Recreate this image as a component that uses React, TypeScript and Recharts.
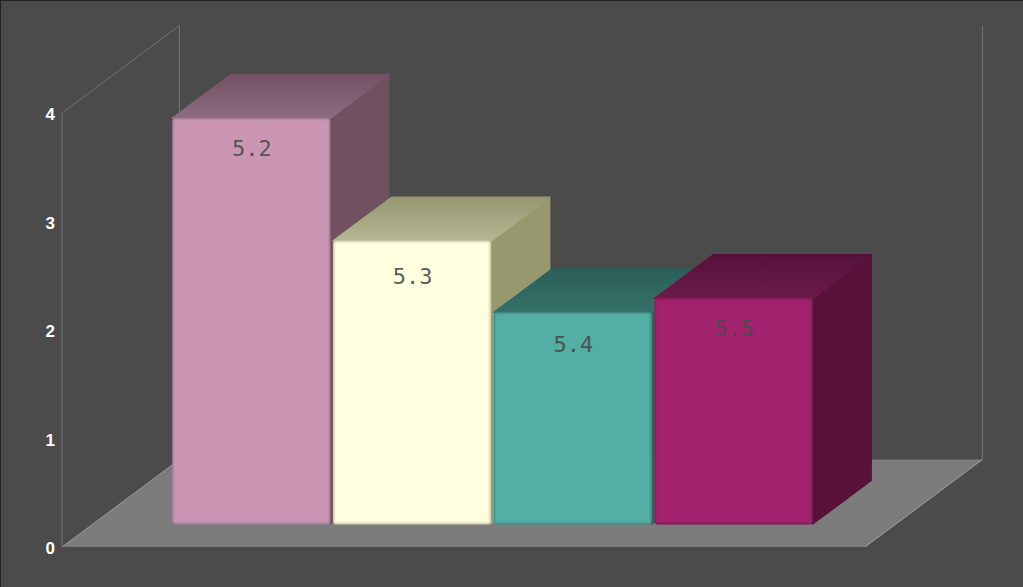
import React from 'react';
import { BarChart, Bar, XAxis, YAxis, ReferenceArea } from 'recharts';

const categories = ["5.2", "5.3", "5.4", "5.5"];
const values = [3.74, 2.61, 1.95, 2.08];
const yTicks = [0, 1, 2, 3, 4];

const fronts = ["#cb96b4", "#ffffe0", "#53aea3", "#a3246d"];
const edges = ["#a07a92", "#c4c4a6", "#41877f", "#7e1c56"];
const topsBack = ["#735265", "#969672", "#2c5f59", "#56123a"];
const topsFront = ["#8d6b80", "#b6b692", "#347069", "#6b1a4a"];
const sides = ["#71505f", "#98986f", "#2f625c", "#581239"];

const data = categories.map((name, i) => ({ name, value: values[i] }));

// bars float above the axis zero, box depth runs up and to the right
const FLOOR_LIFT = 23;
const DEPTH_X = 58.5;
const DEPTH_Y = 43.5;
const PAD_LEFT = 109;
const PAD_RIGHT = 51;
const LABEL_DROP: Record<string, number> = { "5.2": 32, "5.3": 37, "5.4": 34, "5.5": 32 };

const Room = (props: any) => {
  const { y, height } = props;
  // the reference area stops at the axis padding, the room does not
  const x = props.x - PAD_LEFT;
  const right = props.x + props.width + PAD_RIGHT;
  const bottom = y + height;
  const wallX = 117.5;
  const wallY = 87.5;
  const wall = "#737373";
  return (
    <g>
      <polygon
        points={`${x},${bottom} ${right},${bottom} ${right + wallX},${bottom - wallY} ${x + wallX},${bottom - wallY}`}
        fill="#7c7c7c"
      />
      <line x1={x} y1={bottom} x2={x + wallX} y2={bottom - wallY} stroke="#9a9a9a" strokeWidth={1} />
      <line x1={right} y1={bottom} x2={right + wallX} y2={bottom - wallY} stroke="#a0a0a0" strokeWidth={1} />
      <polyline
        points={`${x},${bottom} ${x},${y} ${x + wallX},${y - wallY} ${x + wallX},${bottom - wallY}`}
        fill="none"
        stroke={wall}
        strokeWidth={1}
      />
      <line x1={right + wallX} y1={y - wallY} x2={right + wallX} y2={bottom - wallY} stroke={wall} strokeWidth={1} />
    </g>
  );
};

const Box = (props: any) => {
  const { x, width, index, payload } = props;
  const top = props.y - FLOOR_LIFT;
  const bottom = props.y + props.height - FLOOR_LIFT;
  const right = x + width;
  const gradId = `top-${index}`;
  const blurId = `soft-${index}`;
  return (
    <g>
      <defs>
        <linearGradient id={gradId} x1="0" y1="0" x2="0" y2="1">
          <stop offset="0%" stopColor={topsBack[index]} />
          <stop offset="100%" stopColor={topsFront[index]} />
        </linearGradient>
        <filter id={blurId} x="-5%" y="-5%" width="110%" height="110%">
          <feGaussianBlur stdDeviation="0.9" />
        </filter>
      </defs>
      <polygon
        points={`${right},${top} ${right + DEPTH_X},${top - DEPTH_Y} ${right + DEPTH_X},${bottom - DEPTH_Y} ${right},${bottom}`}
        fill={sides[index]}
        stroke={sides[index]}
        strokeWidth={1.5}
        strokeLinejoin="round"
      />
      <polygon
        points={`${x},${top} ${right},${top} ${right + DEPTH_X},${top - DEPTH_Y} ${x + DEPTH_X},${top - DEPTH_Y}`}
        fill={`url(#${gradId})`}
        stroke={`url(#${gradId})`}
        strokeWidth={1.5}
        strokeLinejoin="round"
      />
      <rect x={x} y={top} width={width} height={bottom - top + 0.5} rx={3} fill={edges[index]} />
      <rect
        x={x + 1}
        y={top + 1}
        width={width - 2.5}
        height={bottom - top - 2}
        fill={fronts[index]}
        filter={`url(#${blurId})`}
      />
      <text
        x={x + width / 2 + 0.5}
        y={top + LABEL_DROP[payload.name]}
        textAnchor="middle"
        dominantBaseline="middle"
        fontFamily="'DejaVu Sans Mono'"
        fontSize={22}
        fill="#4b4b4b"
        fillOpacity={0.92}
      >
        {payload.name}
      </text>
    </g>
  );
};

export default function App() {
  return (
    <div
      style={{
        position: "absolute",
        top: 0,
        left: 0,
        width: 1023,
        height: 587,
        background: "#4b4b4b",
        boxShadow: "inset 1px 1px 0 #222222",
        overflow: "hidden",
      }}
    >
      <BarChart
        width={1023}
        height={587}
        data={data}
        margin={{ top: 113, right: 158, bottom: 40, left: 22 }}
        barCategoryGap={1.4}
      >
        <XAxis dataKey="name" hide padding={{ left: PAD_LEFT, right: PAD_RIGHT }} />
        <YAxis
          domain={[0, 4]}
          ticks={yTicks}
          width={40}
          axisLine={false}
          tickLine={false}
          tickSize={0}
          tickMargin={7}
          tick={{ fill: "#ffffff", fontFamily: "'Liberation Sans'", fontWeight: 700, fontSize: 17, dy: 1 }}
        />
        <ReferenceArea y1={0} y2={4} shape={<Room />} ifOverflow="visible" />
        <Bar dataKey="value" isAnimationActive={false} shape={<Box />} />
      </BarChart>
    </div>
  );
}
